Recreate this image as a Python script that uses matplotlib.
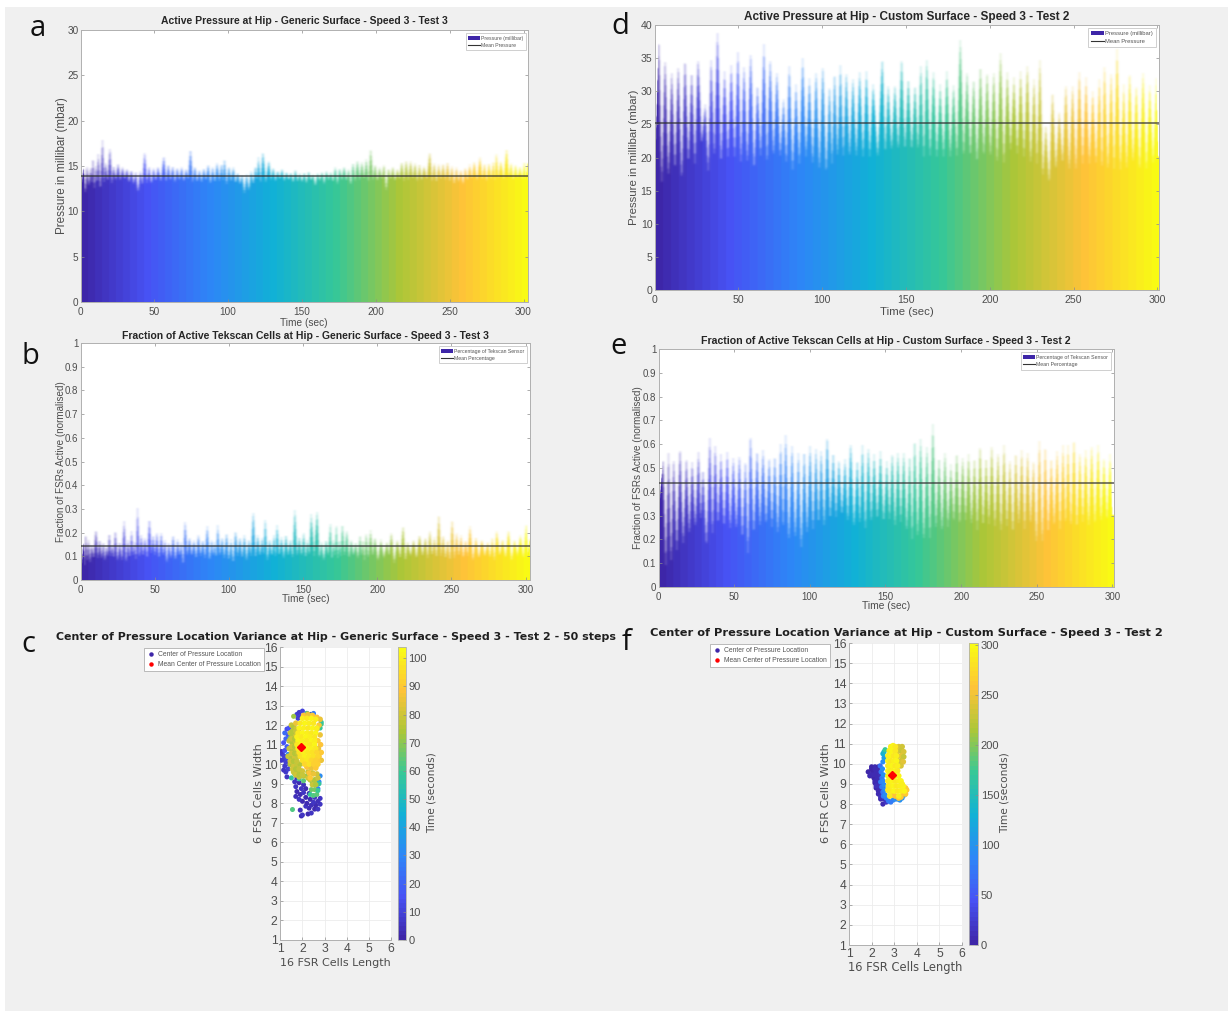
import numpy as np
from matplotlib import pyplot as plt
from matplotlib.colors import LinearSegmentedColormap, Normalize
from matplotlib.lines import Line2D
from matplotlib.patches import Patch, Rectangle

W, H = 1228, 1011

# panel a - pressure profile, generic surface
a_t = [1.5, 4, 6.5, 8, 10, 11.5, 14.5, 16.5, 19.5, 22,
       25, 28, 31, 34, 37, 40, 43, 46, 49, 52,
       56, 59, 62, 65, 68, 71, 74, 77, 80, 83,
       86, 89, 92, 95, 97, 100, 103, 106, 109, 112,
       115, 118, 120, 123, 127, 130, 133, 136, 139, 142,
       145, 148, 151, 154, 157, 160, 163, 166, 169, 172,
       175, 178, 181, 184, 187, 190, 193, 196, 199, 202,
       205, 208, 211, 214, 217, 220, 223, 226, 229, 232,
       236, 239, 242, 245, 248, 251, 254, 257, 260, 263,
       266, 270, 273, 276, 279, 281, 284, 288, 291, 294,
       297, 300, 302]
a_peak = [14.8, 15.0, 14.9, 16.0, 15.2, 16.4, 18.0, 15.4, 17.0, 15.0,
          15.3, 14.9, 14.7, 14.6, 14.4, 14.5, 16.6, 15.0, 14.8, 14.9,
          16.1, 15.2, 15.0, 14.8, 14.9, 14.7, 16.9, 15.0, 14.6, 14.8,
          15.2, 14.9, 15.4, 15.3, 15.8, 15.0, 14.9, 14.3, 14.1, 14.2,
          14.4, 15.0, 16.0, 16.6, 15.6, 14.8, 14.5, 14.7, 14.4, 14.3,
          14.6, 14.2, 14.3, 14.4, 14.1, 14.3, 14.4, 14.5, 14.3, 14.9,
          14.8, 15.0, 14.7, 15.4, 15.7, 15.5, 15.8, 17.0, 15.2, 14.9,
          15.2, 14.8, 14.9, 14.7, 15.5, 15.7, 15.6, 15.4, 15.2, 15.0,
          16.6, 15.4, 15.2, 15.3, 15.5, 15.0, 14.9, 14.6, 14.9, 15.2,
          15.5, 16.0, 15.3, 15.4, 15.6, 16.5, 15.6, 17.0, 15.4, 15.2,
          15.0, 15.5, 15.6]
a_trough = [12.0, 12.8, 13.2, 12.5, 13.0, 12.4, 13.0, 13.3, 13.1, 13.4,
            13.4, 13.5, 13.2, 13.0, 12.1, 12.9, 13.1, 13.0, 13.3, 13.3,
            13.2, 13.4, 13.2, 13.4, 13.3, 13.5, 13.2, 13.2, 13.2, 13.4,
            13.0, 13.2, 13.3, 13.4, 13.0, 13.3, 13.1, 13.0, 12.0, 12.3,
            13.0, 13.4, 13.1, 13.2, 13.4, 13.3, 13.5, 13.3, 13.4, 13.2,
            13.3, 13.2, 13.1, 13.4, 12.8, 13.3, 13.0, 13.4, 13.2, 13.0,
            13.4, 13.3, 12.9, 13.3, 13.4, 13.5, 13.2, 13.4, 13.3, 13.5,
            12.3, 13.5, 13.3, 13.5, 13.3, 13.4, 13.5, 13.3, 13.4, 13.5,
            13.3, 13.2, 13.5, 13.4, 13.3, 13.0, 13.2, 13.0, 13.4, 13.5,
            13.4, 13.5, 13.3, 13.5, 13.4, 13.6, 13.5, 13.6, 13.4, 13.6,
            13.5, 13.5, 13.5]

# panel b - active fraction, generic surface
b_t = [1.5, 3, 5, 7, 10, 12.5, 15, 17, 19, 21,
       23, 26, 29, 31.5, 34, 36, 38, 40.5, 43, 46,
       48.5, 51, 54, 56.5, 59, 62, 65, 67.5, 70, 73,
       76, 79, 82, 85, 88, 90, 92, 95, 98, 101,
       104, 107, 110, 113, 116, 119, 122, 124, 127, 130,
       132, 135, 138, 141, 144, 147, 150, 152.5, 155, 159,
       162, 165, 168, 170, 172, 174, 176, 179, 182, 185,
       188, 190, 192, 195, 198, 202, 206, 209, 213, 217,
       220, 224, 228, 232, 235, 238, 241, 244, 247, 250,
       253, 256, 259, 262, 266, 270, 274, 277, 280, 284,
       288, 292, 296, 300, 302]
b_peak = [.16, .20, .17, .15, .215, .17, .16, .14, .20, .15,
          .21, .16, .25, .17, .21, .16, .305, .19, .18, .26,
          .19, .2, .2, .17, .16, .19, .17, .16, .25, .18,
          .17, .19, .17, .23, .17, .16, .23, .18, .2, .17,
          .21, .18, .19, .17, .29, .19, .18, .26, .17, .19,
          .235, .18, .19, .17, .3, .18, .2, .17, .28, .29,
          .16, .17, .24, .17, .24, .17, .24, .21, .17, .16,
          .19, .17, .2, .21, .18, .17, .16, .2, .17, .23,
          .16, .17, .19, .18, .21, .18, .28, .19, .17, .26,
          .2, .19, .17, .23, .18, .17, .16, .18, .21, .17,
          .21, .17, .19, .24, .18]
b_trough = [.06, .08, .07, .09, .09, .09, .08, .1, .1, .09,
            .08, .08, .07, .09, .1, .08, .09, .1, .09, .11,
            .1, .09, .1, .07, .09, .08, .1, .06, .1, .1,
            .09, .1, .09, .08, .1, .09, .1, .09, .08, .07,
            .1, .09, .08, .1, .09, .1, .1, .08, .1, .09,
            .1, .09, .1, .09, .1, .1, .09, .1, .1, .09,
            .08, .1, .08, .1, .09, .1, .1, .09, .1, .09,
            .1, .08, .09, .1, .08, .09, .1, .07, .09, .08,
            .1, .09, .1, .09, .1, .09, .1, .09, .08, .09,
            .1, .09, .1, .08, .09, .1, .09, .08, .1, .09,
            .08, .1, .09, .1, .1]

# panel d - pressure profile, custom surface
d_t = [2.1, 5.9, 9.9, 13.8, 17.8, 21.8, 25.6, 29.9, 33.4, 37.2,
       41.4, 45.4, 49.4, 53, 57, 61, 64.9, 68.6, 72.6, 76.6,
       80, 84, 88, 92, 96, 100, 104, 107, 110.5, 114,
       118, 122, 126, 130, 135.5, 139, 143, 147, 151, 155,
       158.5, 162, 166, 170, 174, 178, 182, 186, 190, 194,
       198, 202, 206, 210, 214, 218, 222, 226, 229.5, 233,
       237, 241, 245, 249, 253, 257, 261, 265, 268, 272,
       275.5, 279.5, 283, 287, 291, 295, 299]
d_peak = [38, 35, 33, 34, 35, 33, 35, 28, 35, 39,
          33, 34, 36, 34, 36, 31, 37, 35, 33, 29,
          34, 31, 35, 32, 33, 34, 31, 33, 34, 33,
          32, 33, 33, 31, 35, 31, 31, 35, 32, 31,
          34, 35, 33, 31, 33, 31, 38, 33, 32, 34,
          33, 33, 36, 33, 32, 33, 34, 32, 35, 25,
          30, 27, 31, 31, 33, 32, 30, 32, 34, 33,
          36.5, 31, 33, 31, 33, 31, 32]
d_trough = [16, 17, 18, 16.5, 19, 19, 22, 18, 20, 19,
            20, 20, 19, 19, 18, 20, 19, 20, 20, 19,
            18, 19, 20, 19, 18, 17.5, 19, 20, 20, 20,
            20, 20, 20, 20, 20.5, 21, 21, 21, 21, 21,
            20, 20, 20, 20, 20, 20, 20, 20, 19, 20,
            20, 19, 19, 21, 20.5, 20, 19, 19, 17, 16,
            18, 19, 18, 18, 19, 19, 19, 18, 18, 18,
            18, 18, 19, 18, 18, 19, 20]

# panel e - active fraction, custom surface
e_t = [2.6, 6.2, 9.6, 13.8, 18, 21.8, 26, 29, 33.5, 37,
       40.8, 45, 49, 53, 57, 60.3, 64.7, 68.6, 72.7, 76.4,
       80.3, 83.6, 87.8, 92, 95.8, 99.7, 103.6, 107, 111, 115,
       118.7, 122.8, 126.5, 130.9, 134.3, 138.2, 142, 146.2, 150.4, 154,
       157.7, 161.6, 165.5, 168.8, 172.7, 176.9, 180.8, 184.9, 188.8, 192.7,
       196.6, 200.5, 204.4, 208.3, 212, 216, 219.7, 223.9, 227.8, 231.7,
       235.6, 239.5, 243.4, 247.3, 251.2, 255, 259, 262.9, 266.8, 270.1,
       274, 277.9, 281.8, 285.7, 290, 293.8, 297.9]
e_peak = [.54, .57, .55, .59, .55, .53, .57, .5, .63, .6,
          .56, .57, .55, .56, .54, .65, .58, .58, .55, .56,
          .61, .645, .6, .57, .58, .6, .59, .58, .64, .57,
          .54, .54, .61, .54, .6, .59, .56, .57, .53, .57,
          .57, .57, .56, .63, .63, .6, .69, .55, .57, .52,
          .57, .55, .56, .55, .6, .55, .6, .57, .6, .54,
          .57, .58, .57, .54, .62, .6, .55, .58, .6, .6,
          .63, .57, .58, .6, .6, .55, .56]
e_trough = [.09, .1, .15, .18, .22, .25, .28, .17, .22, .26,
            .25, .24, .24, .2, .14, .22, .25, .26, .25, .22,
            .24, .19, .2, .16, .22, .24, .26, .25, .28, .29,
            .3, .27, .25, .26, .24, .27, .28, .27, .28, .25,
            .27, .23, .2, .2, .19, .2, .24, .23, .25, .27,
            .26, .28, .26, .24, .25, .26, .25, .23, .25, .22,
            .26, .24, .26, .18, .18, .22, .25, .24, .26, .25,
            .24, .27, .25, .26, .27, .28, .3]

# panel c - centre of pressure, one x/y/time triple per group
c_x_early = [1.95, 2.0, 2.25, 2.4, 1.9, 2.55, 2.7, 2.3, 2.15, 2.4, 2.6, 2.8, 2.2, 2.5, 2.7, 2.0, 1.85, 2.35,
             2.8, 1.7, 2.15, 2.55, 1.9, 2.05, 2.3, 1.75, 1.95, 2.15, 1.7, 2.05, 1.85, 1.65, 1.75,
             1.3, 1.25, 1.15, 1.35, 1.2, 1.4, 1.05, 1.15, 1.25, 1.1, 1.05, 1.2, 1.3,
             1.75, 1.85, 2.0, 1.8, 1.95, 2.2, 2.35]
c_y_early = [7.35, 7.4, 7.45, 7.5, 7.65, 7.7, 7.7, 7.75, 7.85, 7.9, 7.9, 7.95, 8.0, 8.05, 8.1, 8.1, 8.2, 8.2,
             8.25, 8.35, 8.3, 8.3, 8.45, 8.55, 8.5, 8.6, 8.75, 8.75, 8.85, 8.95, 9.05, 9.1, 9.3,
             9.35, 9.6, 9.7, 9.75, 9.9, 10.0, 10.2, 10.25, 10.1, 10.5, 10.65, 10.4, 10.3,
             12.55, 12.65, 12.72, 12.35, 12.45, 12.6, 12.55]
c_t_early = [3, 5, 2, 6, 4, 3, 5, 2, 6, 4, 3, 5, 2, 6, 4, 3, 5, 2,
             6, 4, 3, 5, 2, 6, 4, 3, 5, 2, 6, 4, 3, 5, 2,
             6, 8, 5, 9, 7, 10, 6, 8, 9, 7, 6, 9, 10,
             9, 8, 10, 9, 8, 10, 9]
c_x_blue = [1.2, 1.3, 1.15, 1.25, 1.35, 1.2, 1.3, 1.4, 1.4, 1.35, 1.45, 1.45, 2.8, 2.75, 2.7, 2.5]
c_y_blue = [10.7, 10.9, 11.1, 11.3, 11.5, 11.6, 11.8, 11.85, 11.2, 10.5, 10.2, 11.6, 9.4, 9.1, 8.75, 12.6]
c_t_blue = [14, 18, 15, 20, 17, 22, 14, 16, 24, 30, 26, 24, 32, 30, 28, 26]
c_x_green = [1.55, 1.5, 1.65, 1.85, 2.05, 2.2, 2.35, 2.5, 2.65, 2.4, 2.55, 2.7, 2.75, 2.45, 2.6, 2.85, 2.8,
             2.05, 2.2, 2.35, 1.6, 1.45, 1.7, 2.85]
c_y_green = [7.68, 9.3, 9.5, 9.25, 9.15, 9.4, 8.45, 8.4, 8.45, 8.7, 8.7, 8.65, 9.0, 9.05, 9.2, 12.05, 11.85,
             12.45, 12.6, 12.5, 12.45, 11.35, 9.8, 12.15]
c_t_green = [62, 58, 60, 56, 64, 62, 60, 62, 64, 66, 68, 60, 58, 64, 62, 62, 60,
             66, 64, 60, 72, 68, 66, 58]
c_x_olive = [1.5, 1.6, 1.7, 1.45, 1.55, 1.7, 1.4, 1.55, 1.7, 1.4, 1.55, 1.7, 1.35, 1.5, 1.65, 1.8, 1.45, 1.6, 1.75, 1.9,
             1.6, 1.8, 2.0, 1.85, 2.05, 2.25, 2.2, 2.4, 2.6, 2.25, 2.45, 2.65, 2.35, 2.55, 2.7, 2.45, 2.6]
c_y_olive = [12.0, 11.9, 11.8, 11.6, 11.5, 11.45, 11.2, 11.1, 11.15, 10.8, 10.7, 10.8, 10.4, 10.3, 10.35, 10.4, 10.0, 9.9, 9.95, 10.0,
             9.6, 9.6, 9.65, 9.35, 9.4, 9.3, 9.95, 9.9, 9.85, 9.6, 9.55, 9.5, 9.2, 9.2, 9.3, 8.95, 8.95]
c_t_olive = [78, 76, 80, 78, 76, 80, 78, 76, 80, 78, 76, 80, 78, 76, 80, 78, 76, 80, 78, 76,
             78, 76, 80, 78, 76, 80, 78, 76, 80, 78, 76, 80, 78, 76, 80, 78, 76]
c_x_left = [1.55, 1.7, 1.5, 1.65, 1.8, 1.5, 1.65, 1.8, 1.5, 1.65, 1.8, 1.45, 1.6, 1.75, 1.55, 1.7, 1.85, 1.7, 1.85, 2.0]
c_y_left = [11.7, 11.7, 11.3, 11.3, 11.3, 10.9, 10.9, 10.9, 10.55, 10.55, 10.55, 10.15, 10.15, 10.15, 9.75, 9.75, 9.75, 9.45, 9.45, 9.45]
c_t_left = [76, 78, 80, 76, 78, 80, 76, 78, 80, 76, 78, 80, 76, 78, 80, 76, 78, 80, 76, 78]
c_x_orange = [2.05, 2.25, 2.45, 2.65, 2.8, 2.75, 2.65, 2.8, 2.7, 2.82, 2.72, 2.85, 2.75, 2.85, 2.7, 2.5, 2.3, 2.1,
              2.2, 2.4, 2.6, 2.3, 2.5, 2.35, 1.85, 1.7]
c_y_orange = [12.5, 12.55, 12.5, 12.4, 12.3, 12.0, 11.8, 11.5, 11.2, 11.0, 10.8, 10.6, 10.4, 10.2, 10.2, 10.15, 10.1, 10.1,
              9.85, 9.8, 9.8, 9.55, 9.5, 9.3, 11.8, 12.1]
c_t_orange = [88, 86, 90, 88, 86, 90, 88, 86, 90, 88, 86, 90, 88, 86, 90, 88, 86, 90,
              88, 86, 90, 88, 86, 90, 84, 86]
c_x_yellow = [2.0, 2.2, 2.4, 2.6, 1.9, 2.1, 2.3, 2.5, 1.85, 2.05, 2.25, 2.45, 2.65, 1.8, 2.0, 2.2, 2.4, 2.6,
              1.75, 1.95, 2.15, 2.35, 2.55, 1.8, 2.0, 2.2, 2.4, 2.55, 1.75, 1.95, 2.15, 2.35, 2.55, 1.8, 2.0, 2.2, 2.4, 2.6,
              1.85, 2.05, 2.25, 2.45, 2.65, 1.9, 2.1, 2.3, 2.5, 2.7, 2.0, 2.2, 2.4, 2.6, 2.1, 2.3, 2.5, 2.7]
c_y_yellow = [12.35, 12.35, 12.35, 12.3, 12.1, 12.1, 12.1, 12.1, 11.85, 11.85, 11.85, 11.85, 11.85, 11.6, 11.6, 11.6, 11.6, 11.6,
              11.4, 11.4, 11.4, 11.4, 11.4, 11.2, 11.2, 11.2, 11.2, 11.2, 11.0, 11.0, 11.0, 11.0, 11.0, 10.8, 10.8, 10.8, 10.8, 10.8,
              10.6, 10.6, 10.6, 10.6, 10.6, 10.4, 10.4, 10.4, 10.4, 10.4, 10.2, 10.2, 10.2, 10.2, 10.0, 10.0, 10.0, 10.0]
c_t_yellow = [100, 98, 102, 100, 98, 102, 100, 98, 102, 100, 98, 102, 100, 98, 102, 100, 98, 102,
              100, 98, 102, 100, 98, 102, 100, 98, 102, 100, 98, 102, 100, 98, 102, 100, 98, 102, 100, 98,
              96, 100, 98, 96, 94, 96, 100, 98, 96, 94, 96, 98, 94, 92, 94, 96, 92, 92]

# panel f - centre of pressure, custom surface
f_x_early = [1.85, 1.92, 2.0, 2.15, 2.3, 2.05, 2.2, 2.35, 2.1, 2.25, 2.4, 2.15, 2.3, 2.45, 2.2, 2.35, 2.5, 2.3, 2.45, 2.4, 2.55, 2.5, 2.65,
             2.0, 2.15, 2.3, 1.98, 2.1, 2.25, 2.4, 2.15, 2.3, 2.2, 2.35, 2.3, 2.45, 2.4, 2.55]
f_y_early = [9.6, 9.4, 9.85, 9.85, 9.85, 9.6, 9.6, 9.6, 9.3, 9.3, 9.3, 9.05, 9.05, 9.05, 8.8, 8.8, 8.8, 8.5, 8.5, 8.25, 8.25, 8.0, 8.1,
             9.75, 9.75, 9.75, 9.45, 9.45, 9.45, 9.45, 9.15, 9.15, 8.9, 8.9, 8.65, 8.65, 8.35, 8.35]
f_t_early = [3, 5, 2, 6, 4, 3, 5, 8, 2, 6, 10, 3, 6, 12, 4, 8, 14, 6, 12, 8, 14, 6, 18,
             4, 6, 8, 5, 7, 9, 12, 6, 8, 10, 12, 8, 14, 10, 16]
f_x_blue = [2.38, 2.42, 2.46, 2.4, 2.45, 2.5, 2.52, 2.5, 2.55, 2.5, 2.55, 2.6, 2.75, 2.95, 3.15, 3.35, 3.45, 2.65, 2.85, 3.05, 3.25,
            2.48, 2.52, 2.5, 2.55, 2.58, 2.6]
f_y_blue = [9.9, 9.6, 9.3, 9.1, 8.85, 8.6, 8.4, 10.1, 10.3, 10.5, 10.6, 10.7, 8.15, 8.2, 8.25, 8.3, 8.45, 8.3, 8.1, 8.25, 8.2,
            9.75, 9.45, 9.15, 8.95, 8.7, 8.45]
f_t_blue = [70, 80, 74, 84, 78, 72, 80, 90, 110, 130, 140, 170, 80, 90, 100, 90, 100, 84, 78, 92, 96,
            90, 96, 88, 94, 90, 92]
f_x_gold = [3.2, 3.35, 3.15, 3.3, 3.42, 3.15, 3.3, 3.42, 3.15, 3.3, 3.4, 3.2, 3.3, 3.35, 3.5, 3.55, 3.4, 3.5, 3.3, 3.2, 2.95, 3.05]
f_y_gold = [10.85, 10.85, 10.65, 10.65, 10.6, 10.4, 10.4, 10.35, 10.15, 10.15, 10.1, 9.9, 9.9, 8.9, 8.8, 8.7, 8.55, 8.5, 8.35, 8.3, 8.45, 8.4]
f_t_gold = [240, 235, 245, 230, 240, 235, 245, 230, 240, 235, 245, 230, 240, 265, 260, 262, 258, 264, 260, 262, 258, 256]
f_x_yellow = [2.85, 2.95, 3.05, 2.78, 2.9, 3.05, 2.72, 2.85, 2.98, 3.1, 2.72, 2.85, 2.98, 3.1, 2.72, 2.82, 2.92, 3.05, 3.15,
              2.72, 2.82, 2.92, 3.05, 3.15, 2.72, 2.82, 2.92, 3.05, 3.2, 2.72, 2.82, 2.92, 3.05, 3.2, 3.3,
              2.74, 2.85, 2.98, 3.1, 3.25, 3.4, 2.76, 2.87, 3.0, 3.15, 3.3, 3.45, 2.8, 3.2, 2.72, 3.35]
f_y_yellow = [10.85, 10.9, 10.85, 10.65, 10.65, 10.65, 10.4, 10.4, 10.4, 10.4, 10.15, 10.15, 10.15, 10.15, 9.9, 9.9, 9.9, 9.9, 9.9,
              9.65, 9.65, 9.65, 9.65, 9.65, 9.4, 9.4, 9.4, 9.4, 9.4, 9.15, 9.15, 9.15, 9.15, 9.15, 9.15,
              8.9, 8.9, 8.9, 8.9, 8.9, 8.9, 8.65, 8.65, 8.65, 8.65, 8.65, 8.65, 8.4, 8.4, 8.7, 9.0]
f_t_yellow = [290, 295, 285, 290, 295, 285, 290, 295, 285, 290, 295, 285, 290, 295, 285, 290, 295, 285, 290,
              295, 285, 290, 295, 285, 290, 295, 285, 290, 295, 285, 290, 295, 285, 290, 295,
              285, 290, 295, 285, 290, 295, 285, 290, 295, 285, 290, 295, 285, 290, 285, 290]

PARULA = LinearSegmentedColormap.from_list("parula", [
    (0.2422, 0.1504, 0.6603), (0.2810, 0.3228, 0.9579), (0.1786, 0.5289, 0.9682),
    (0.0689, 0.6948, 0.8394), (0.2161, 0.7843, 0.5923), (0.6720, 0.7793, 0.2227),
    (0.9970, 0.7659, 0.2199), (0.9769, 0.9839, 0.0805)], N=64)

TICK = "#4d4d4d"
EDGE = "#b0b0b0"
SANS = "Liberation Sans"

plt.rcParams["font.family"] = SANS

fig = plt.figure(figsize=(W / 100, H / 100), dpi=100, facecolor="white")
fig.patches.append(Rectangle((5 / W, 0), (W - 5) / W, 1 - 7 / H, transform=fig.transFigure,
                             facecolor="#f0f0f0", edgecolor="none", zorder=-5))


def px_axes(left, top, right, bottom):
    return fig.add_axes([left / W, 1 - bottom / H, (right - left) / W, (bottom - top) / H])


def blur(values, kernel, axis):
    return np.apply_along_axis(lambda row: np.convolve(row, kernel, mode="same"), axis, values)


def profile_image(ax, times, peaks, troughs, start, xmax, ymax):
    # zig-zag from peak to trough, image keeps the soft tips of the original
    zig_t, zig_v = [0], [start]
    for i, (t, p, tr) in enumerate(zip(times, peaks, troughs)):
        next_t = times[i + 1] if i + 1 < len(times) else xmax
        zig_t += [t, (t + next_t) / 2]
        zig_v += [p, tr]
    box = ax.get_window_extent()
    cols, rows = int(box.width * 3), int(box.height)
    col_t = np.linspace(0, xmax, cols)
    row_v = np.linspace(0, ymax, rows)
    top_line = np.interp(col_t, zig_t, zig_v)
    filled = (row_v[None, :] <= top_line[:, None]).astype(float)
    k = np.exp(-0.5 * (np.arange(-9, 10) / 3.4) ** 2)
    edge_left = filled[:9].copy()
    edge_right = filled[-9:].copy()
    filled = blur(filled, k / k.sum(), 0)
    filled[:9] = edge_left
    filled[-9:] = edge_right
    v = np.array([0.25, 0.5, 0.25])
    edge_keep = filled.copy()
    filled = blur(filled, v, 1)
    filled[:, 0] = edge_keep[:, 0]
    rgba = PARULA(Normalize(0, xmax)(col_t))[None, :, :].repeat(rows, axis=0)
    rgba[:, :, 3] = filled.T
    ax.imshow(rgba, origin="lower", extent=(0, xmax, 0, ymax), aspect="auto", interpolation="bilinear", zorder=1)


def profile_panel(box, times, peaks, troughs, start, mean, xmax, ymax, yticks, title, title_xy, ylabel, names, legend_rt,
                  xlabel_y, ylabel_x, title_size, ylabel_size, xlabel_size, tick_size, legend_size):
    ax = px_axes(*box)
    profile_image(ax, times, peaks, troughs, start, xmax, ymax)
    ax.axhline(mean, color="#2e2e2e", lw=1.1, alpha=0.8, zorder=3)
    ax.set_xlim(0, xmax)
    ax.set_ylim(0, ymax)
    ax.set_xticks(range(0, 301, 50))
    ax.set_yticks(yticks)
    ax.set_yticklabels([f"{v:g}" for v in yticks])
    ax.tick_params(direction="in", length=2.2, width=0.5, color="#8c8c8c", labelcolor=TICK, labelsize=tick_size, pad=1.5,
                   top=True, right=True)
    ax.tick_params(axis="x", pad=3.5)
    for s in ax.spines.values():
        s.set_color(EDGE)
        s.set_linewidth(0.7)
    fig.text(title_xy[0] / W, 1 - title_xy[1] / H, title, ha="center", va="center", fontsize=title_size,
             fontweight="bold", color="#262626")
    fig.text((box[0] + box[2]) / 2 / W, 1 - xlabel_y / H, "Time (sec)", ha="center", va="center", fontsize=xlabel_size,
             color=TICK)
    fig.text(ylabel_x / W, 1 - (box[1] + box[3]) / 2 / H, ylabel, rotation=90, ha="center", va="center",
             fontsize=ylabel_size, color=TICK)
    handles = [Patch(facecolor=PARULA(0.0), edgecolor="none", label=names[0]),
               Line2D([], [], color="#333333", lw=0.8, label=names[1])]
    leg = ax.legend(handles=handles, loc="upper right", bbox_to_anchor=(legend_rt[0] / W, 1 - legend_rt[1] / H),
                    bbox_transform=fig.transFigure, fontsize=legend_size, borderaxespad=0, borderpad=0.5, labelspacing=0.45,
                    handlelength=2.2, handletextpad=0.3, frameon=True, fancybox=False, framealpha=1, labelcolor="#555555")
    leg.get_frame().set_edgecolor("#c8c8c8")
    leg.get_frame().set_linewidth(0.6)
    return ax


profile_panel((80.5, 30, 528, 302), a_t, a_peak, a_trough, 12.5, 13.9, 303, 30, range(0, 31, 5),
              "Active Pressure at Hip - Generic Surface - Speed 3 - Test 3", (304, 21),
              "Pressure in millibar (mbar)", ("Pressure (millibar)", "Mean Pressure"), (526, 33), 323, 62,
              7.5, 8.4, 7.3, 7.2, 3.7)
profile_panel((80.5, 343, 530, 580), b_t, b_peak, b_trough, 0.03, 0.145, 303, 1, [0, .1, .2, .3, .4, .5, .6, .7, .8, .9, 1],
              "Fraction of Active Tekscan Cells at Hip - Generic Surface - Speed 3 - Test 3", (305, 336),
              "Fraction of FSRs Active (normalised)", ("Percentage of Tekscan Sensor", "Mean Percentage"), (527, 346), 598.5, 60.5,
              7.5, 7.15, 7.3, 7.0, 3.7)
profile_panel((654.5, 25, 1159, 290), d_t, d_peak, d_trough, 19, 25.2, 301, 40, range(0, 41, 5),
              "Active Pressure at Hip - Custom Surface - Speed 3 - Test 2", (907, 17),
              "Pressure in millibar (mbar)", ("Pressure (millibar)", "Mean Pressure"), (1156, 28), 312, 634.5,
              8.45, 8.25, 8.2, 7.6, 4.2)
profile_panel((658.5, 349, 1114, 587), e_t, e_peak, e_trough, 0.34, 0.435, 301, 1, [0, .1, .2, .3, .4, .5, .6, .7, .8, .9, 1],
              "Fraction of Active Tekscan Cells at Hip - Custom Surface - Speed 3 - Test 2", (886, 341),
              "Fraction of FSRs Active (normalised)", ("Percentage of Tekscan Sensor", "Mean Percentage"), (1111, 352), 606, 638.5,
              7.6, 7.2, 7.4, 7.0, 3.8)


def scatter_panel(box, cbar_x, xs, ys, ts, sizes, mean_xy, tmax, cticks, title, title_xy, title_size, legend_rt, xlabel_y,
                  xlabel_size, ylabel_x, clabel_x):
    ax = px_axes(*box)
    sc = ax.scatter(xs, ys, c=ts, s=sizes, cmap=PARULA, vmin=0, vmax=tmax, linewidths=0, zorder=3)
    ax.plot([mean_xy[0]], [mean_xy[1]], marker="D", ms=4.2, mfc="#ff0000", mec="#ff0000", ls="none", zorder=5)
    ax.set_xlim(1, 6)
    ax.set_ylim(1, 16)
    ax.set_xticks(range(1, 7))
    ax.set_yticks(range(1, 17))
    ax.grid(True, color="#ececec", lw=0.6, zorder=0)
    ax.set_axisbelow(True)
    ax.tick_params(direction="in", length=2, width=0.5, color="#8c8c8c", labelcolor=TICK, labelsize=8.7, pad=2)
    for name, s in ax.spines.items():
        s.set_color(EDGE)
        s.set_linewidth(0.7)
        s.set_visible(name in ("left", "bottom"))
    cax = px_axes(cbar_x[0], box[1], cbar_x[1], box[3])
    cbar = fig.colorbar(sc, cax=cax)
    cbar.set_ticks(cticks)
    cbar.ax.tick_params(direction="in", length=2, width=0.5, color="#8c8c8c", labelcolor=TICK, labelsize=8, pad=2)
    cbar.outline.set_edgecolor(EDGE)
    cbar.outline.set_linewidth(0.6)
    fig.text(title_xy[0] / W, 1 - title_xy[1] / H, title, ha="center", va="center", fontsize=title_size, fontweight="bold",
             family="DejaVu Sans", color="#1f1f1f")
    fig.text((box[0] + box[2]) / 2 / W, 1 - xlabel_y / H, "16 FSR Cells Length", ha="center", va="center",
             fontsize=xlabel_size, family="DejaVu Sans", color=TICK)
    fig.text(ylabel_x / W, 1 - 793 / H, "6 FSR Cells Width", rotation=90, ha="center", va="center", fontsize=8.2,
             family="DejaVu Sans", color=TICK)
    fig.text(clabel_x / W, 1 - 793 / H, "Time (seconds)", rotation=90, ha="center", va="center", fontsize=7.6,
             family="DejaVu Sans", color=TICK)
    handles = [Line2D([], [], marker="o", ms=2.2, ls="none", color=PARULA(0.0), label="Center of Pressure Location"),
               Line2D([], [], marker="o", ms=2.2, ls="none", color="#ff0000", label="Mean Center of Pressure Location")]
    leg = ax.legend(handles=handles, loc="upper right", bbox_to_anchor=(legend_rt[0] / W, 1 - legend_rt[1] / H),
                    bbox_transform=fig.transFigure, fontsize=4.9, borderaxespad=0, borderpad=0.45, labelspacing=0.45,
                    handletextpad=0.5, handlelength=1.2, frameon=True, fancybox=False, framealpha=1, labelcolor="#555555")
    leg.get_frame().set_edgecolor("#b0b0b0")
    leg.get_frame().set_linewidth(0.6)


scatter_panel((280.3, 647, 391, 940), (397.7, 405.7),
              c_x_early + c_x_blue + c_x_green + c_x_olive + c_x_left + c_x_orange + c_x_yellow,
              c_y_early + c_y_blue + c_y_green + c_y_olive + c_y_left + c_y_orange + c_y_yellow,
              c_t_early + c_t_blue + c_t_green + c_t_olive + c_t_left + c_t_orange + c_t_yellow,
              [13] * (len(c_x_early) + len(c_x_blue) + len(c_x_green))
              + [16] * (len(c_x_olive) + len(c_x_left) + len(c_x_orange) + len(c_x_yellow)),
              (1.93, 10.9), 104, range(0, 101, 10),
              "Center of Pressure Location Variance at Hip - Generic Surface - Speed 3 - Test 2 - 50 steps", (336, 637), 7.9,
              (264, 648), 963, 8.0, 259, 432)
scatter_panel((849, 643, 962, 945), (969, 978),
              f_x_early + f_x_blue + f_x_gold + f_x_yellow,
              f_y_early + f_y_blue + f_y_gold + f_y_yellow,
              f_t_early + f_t_blue + f_t_gold + f_t_yellow,
              [14] * (len(f_x_early) + len(f_x_blue)) + [17] * (len(f_x_gold) + len(f_x_yellow)),
              (2.9, 9.45), 302, range(0, 301, 50),
              "Center of Pressure Location Variance at Hip - Custom Surface - Speed 3 - Test 2", (906, 633), 8.2,
              (830, 644), 968, 8.3, 826, 1005)

# panel letters
panel_letters = ["a", "b", "c", "d", "e", "f"]
letter_x = [38, 30, 28, 620, 619, 626]
letter_y = [28, 357, 645, 27, 347, 642]
for letter, lx, ly in zip(panel_letters, letter_x, letter_y):
    fig.text(lx / W, 1 - ly / H, letter, ha="center", va="center", fontsize=21, family="Open Sans", color="#111111")

fig.savefig("out.png", dpi=100, facecolor=fig.get_facecolor())
